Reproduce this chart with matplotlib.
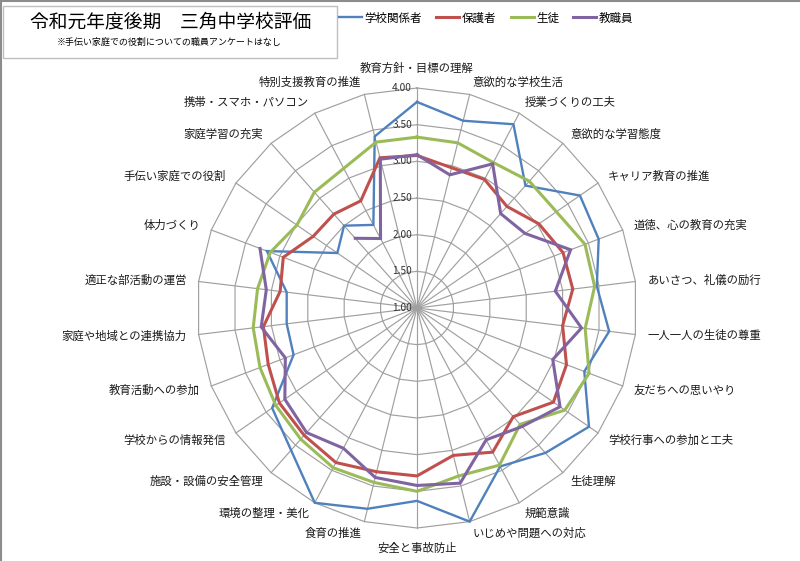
import numpy as np
import matplotlib
matplotlib.use("Agg")
import matplotlib.pyplot as plt
from matplotlib.patches import Rectangle
from matplotlib.lines import Line2D
from matplotlib.transforms import ScaledTranslation

plt.rcParams['font.family'] = ['Noto Sans CJK JP', 'DejaVu Sans']

title = "令和元年度後期　三角中学校評価"
subtitle = "※手伝い家庭での役割についての職員アンケートはなし"

categories = [
    "教育方針・目標の理解", "意欲的な学校生活", "授業づくりの工夫", "意欲的な学習態度",
    "キャリア教育の推進", "道徳、心の教育の充実", "あいさつ、礼儀の励行", "一人一人の生徒の尊重",
    "友だちへの思いやり", "学校行事への参加と工夫", "生徒理解", "規範意識",
    "いじめや問題への対応", "安全と事故防止", "食育の推進", "環境の整理・美化",
    "施設・設備の安全管理", "学校からの情報発信", "教育活動への参加", "家庭や地域との連携協力",
    "適正な部活動の運営", "体力づくり", "手伝い家庭での役割", "家庭学習の充実",
    "携帯・スマホ・パソコン", "特別支援教育の推進",
]

series_names = ["学校関係者", "保護者", "生徒", "教職員"]

school_related = [3.81, 3.63, 3.83, 3.23, 3.70, 3.65, 3.47, 3.64, 3.44, 3.85, 3.64, 3.44, 4.00,
                  3.63, 3.82, 4.00, 3.59, 3.40, 2.80, 2.79, 2.79, 3.19, 2.32, 2.50, 2.28, 3.41]
guardians = [3.08, 2.97, 2.98, 2.85, 3.02, 3.13, 3.14, 3.00, 3.18, 3.26, 2.98, 3.22, 3.07,
             3.29, 3.30, 3.38, 3.32, 3.28, 3.17, 3.11, 2.88, 2.95, 2.72, 2.71, 2.65, 3.11]
students = [3.33, 3.32, 3.24, 3.31, 3.31, 3.45, 3.44, 3.31, 3.51, 3.45, 3.12, 3.42, 3.36,
            3.50, 3.45, 3.46, 3.39, 3.34, 3.29, 3.25, 3.19, 3.14, 2.99, 3.11, 3.15, 3.33]
staff = [3.09, 2.87, 3.22, 2.72, 2.79, 3.24, 2.90, 3.26, 2.98, 3.37, 3.16, 3.03, 3.46,
         3.42, 3.38, 3.16, 3.27, 3.19, 2.92, 3.14, 3.07, 3.29, np.nan, 2.27, 2.07, 3.09]

r_ticks = [1.0, 1.5, 2.0, 2.5, 3.0, 3.5, 4.0]
colors = ["#4F81BD", "#C0504D", "#9BBB59", "#8064A2"]
widths = [1.7, 2.2, 2.2, 2.2]

W, H = 800, 561
fig = plt.figure(figsize=(W / 100, H / 100), dpi=100)

cx, cy, R = 417, 308, 220
ax = fig.add_axes([(cx - R) / W, (H - cy - R) / H, 2 * R / W, 2 * R / H], projection='polar')
ax.set_theta_offset(np.pi / 2)
ax.set_theta_direction(-1)
ax.set_ylim(r_ticks[0], r_ticks[-1])
ax.grid(False)
ax.set_xticks([])
ax.set_yticks([])
ax.spines['polar'].set_visible(False)
ax.patch.set_alpha(0)

n = len(categories)
theta = np.arange(n) * 2 * np.pi / n
theta_c = np.append(theta, theta[0])

grid_col = "#A0A0A0"
for rv in r_ticks[1:]:
    ax.plot(theta_c, [rv] * (n + 1), color=grid_col, lw=0.85, zorder=1, clip_on=False)
for t in theta:
    ax.plot([t, t], [r_ticks[0], r_ticks[-1]], color=grid_col, lw=0.85, zorder=1, clip_on=False)

off = ScaledTranslation(-5 / 100, 0, fig.dpi_scale_trans)
for rv in r_ticks:
    ax.text(0, rv, f"{rv:.2f}", ha='right', va='center', fontsize=7.3, color="#333333",
            transform=ax.transData + off, zorder=2)

data = [school_related, guardians, students, staff]
handles = []
for vals, c, lw, name in zip(data, colors, widths, series_names):
    v = np.array(vals, dtype=float)
    v_c = np.append(v, v[0])
    ax.plot(theta_c, v_c, color=c, lw=lw, zorder=3, clip_on=False, solid_joinstyle='miter')
    handles.append(Line2D([], [], color=c, lw=lw, label=name))

scale = (r_ticks[-1] - r_ticks[0]) / R
for t, lab in zip(theta, categories):
    deg = np.degrees(t)
    if abs(deg) < 1e-6 or abs(deg - 180) < 1e-6:
        ha = 'center'
        d = 20
    elif deg < 180:
        ha = 'left'
        d = 12
    else:
        ha = 'right'
        d = 12
    ax.text(t, r_ticks[-1] + d * scale, lab, ha=ha, va='center', fontsize=8.2,
            color="#1a1a1a", clip_on=False)

# title box
fig.patches.append(Rectangle((3 / W, 1 - 58 / H), 334 / W, 52 / H, transform=fig.transFigure,
                             fill=False, edgecolor="#BFBFBF", lw=1.0))
fig.text(171 / W, 1 - 22 / H, title, ha='center', va='center', fontsize=13.5, color="#000000")
fig.text(169 / W, 1 - 42.5 / H, subtitle, ha='center', va='center', fontsize=6.5, color="#000000")

# outer chart border (top and left visible)
fig.lines.append(Line2D([0, 1], [1 - 0.5 / H, 1 - 0.5 / H], transform=fig.transFigure,
                        color="#8C8C8C", lw=1.5))
fig.lines.append(Line2D([0.5 / W, 0.5 / W], [0, 1], transform=fig.transFigure,
                        color="#8C8C8C", lw=1.5))

fig.legend(handles=handles, loc='center left', bbox_to_anchor=(339 / W, 1 - 18 / H),
           ncol=4, frameon=False, fontsize=8.3, handlelength=2.0, handletextpad=0.2,
           columnspacing=1.25, borderaxespad=0, borderpad=0)

fig.savefig("out.png", dpi=100)
